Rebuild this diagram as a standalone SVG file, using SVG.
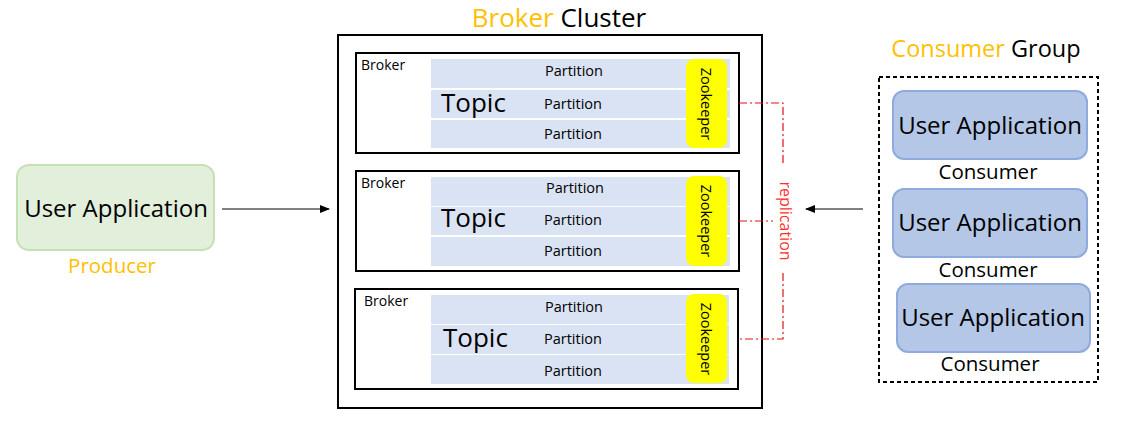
<svg xmlns="http://www.w3.org/2000/svg" width="1123" height="436" viewBox="0 0 1123 436">
<defs>
<marker id="ah" markerWidth="10" markerHeight="8" refX="9" refY="4" orient="auto" markerUnits="userSpaceOnUse">
<path d="M0,0 L10,4 L0,8 Z" fill="#000"/>
</marker>
<style>
text{font-family:"Open Sans","Noto Sans","Liberation Sans",sans-serif;}
.box{fill:#fff;stroke:#000;stroke-width:2;}
.part{fill:#dae3f3;}
.zk{fill:#ffff00;}
.small{font-size:14px;fill:#000;}
.pt{font-size:14.5px;fill:#000;text-anchor:middle;}
.topic{font-size:26px;fill:#000;}
.zkt{font-size:14.5px;fill:#000;}
.app{font-size:24px;fill:#000;text-anchor:middle;}
.lbl{font-size:20.5px;text-anchor:middle;}
.org{fill:#ffc000;}
.rep{fill:none;stroke:#e81010;stroke-width:1.2;stroke-dasharray:8,3,2,3;}
.cons{fill:#b4c7e7;stroke:#8faadc;stroke-width:2;}
</style>
</defs>
<rect width="1123" height="436" fill="#fff"/>

<g id="cluster">
<text x="559" y="27" font-size="26" text-anchor="middle"><tspan class="org">Broker</tspan> <tspan fill="#000">Cluster</tspan></text>
<rect x="338" y="35" width="424" height="373" fill="none" stroke="#000" stroke-width="2"/>
</g>

<g id="broker1">
<rect class="box" x="356" y="53" width="383" height="100"/>
<text class="small" x="361" y="70">Broker</text>
<rect class="part" x="431" y="59" width="299" height="29"/>
<rect class="part" x="431" y="90" width="299" height="28"/>
<rect class="part" x="431" y="120" width="299" height="28"/>
<text class="pt" x="574" y="76">Partition</text>
<text class="pt" x="573" y="109">Partition</text>
<text class="pt" x="573" y="139">Partition</text>
<text class="topic" x="441" y="112">Topic</text>
<rect class="zk" x="686" y="59" width="41" height="89" rx="8"/>
<text class="zkt" transform="translate(701,104) rotate(90)" text-anchor="middle">Zookeeper</text>
</g>

<g id="broker2">
<rect class="box" x="356" y="171" width="383" height="100"/>
<text class="small" x="361" y="188">Broker</text>
<rect class="part" x="431" y="177" width="299" height="29"/>
<rect class="part" x="431" y="207" width="299" height="28"/>
<rect class="part" x="431" y="237" width="299" height="29"/>
<text class="pt" x="575" y="193">Partition</text>
<text class="pt" x="573" y="225">Partition</text>
<text class="pt" x="573" y="256">Partition</text>
<text class="topic" x="441" y="227">Topic</text>
<rect class="zk" x="686" y="176" width="41" height="90" rx="8"/>
<text class="zkt" transform="translate(701,221) rotate(90)" text-anchor="middle">Zookeeper</text>
</g>

<g id="broker3">
<rect class="box" x="355" y="289" width="383" height="100"/>
<text class="small" x="364" y="306">Broker</text>
<rect class="part" x="431" y="295" width="298" height="29"/>
<rect class="part" x="431" y="325" width="298" height="29"/>
<rect class="part" x="431" y="355" width="298" height="29"/>
<text class="pt" x="574" y="312">Partition</text>
<text class="pt" x="573" y="344">Partition</text>
<text class="pt" x="573" y="376">Partition</text>
<text class="topic" x="443" y="347">Topic</text>
<rect class="zk" x="686" y="294" width="41" height="89" rx="8"/>
<text class="zkt" transform="translate(701,339) rotate(90)" text-anchor="middle">Zookeeper</text>
</g>

<g id="producer">
<rect x="17" y="165" width="197" height="85" rx="12" fill="#e2efda" stroke="#c5e0b4" stroke-width="2"/>
<text class="app" x="116" y="217">User Application</text>
<text class="lbl org" x="112" y="273">Producer</text>
</g>

<g id="consumergroup">
<text x="986" y="57" font-size="23.5" text-anchor="middle"><tspan class="org">Consumer</tspan> <tspan fill="#000">Group</tspan></text>
<rect x="879" y="77" width="219" height="305" fill="none" stroke="#000" stroke-width="2" stroke-dasharray="4,3"/>
</g>

<g id="consumer1">
<rect class="cons" x="893" y="91" width="194" height="68" rx="11"/>
<text class="app" x="990" y="134">User Application</text>
<text class="lbl" x="988" y="179" fill="#000">Consumer</text>
</g>
<g id="consumer2">
<rect class="cons" x="893" y="189" width="194" height="68" rx="11"/>
<text class="app" x="990" y="231">User Application</text>
<text class="lbl" x="988" y="277" fill="#000">Consumer</text>
</g>
<g id="consumer3">
<rect class="cons" x="897" y="284" width="193" height="68" rx="11"/>
<text class="app" x="993" y="326">User Application</text>
<text class="lbl" x="990" y="371" fill="#000">Consumer</text>
</g>

<g id="connectors">
<line x1="222" y1="209" x2="329" y2="209" stroke="#000" stroke-width="1" marker-end="url(#ah)"/>
<line x1="863" y1="209" x2="806" y2="209" stroke="#000" stroke-width="1" marker-end="url(#ah)"/>
<polyline class="rep" points="739,103 783,103 783,164"/>
<polyline class="rep" points="783,273 783,339 739,339"/>
<line class="rep" x1="739" y1="221" x2="773" y2="221"/>
<text transform="translate(780,221) rotate(90)" font-size="16" fill="#ff3030" text-anchor="middle">replication</text>
</g>
</svg>
